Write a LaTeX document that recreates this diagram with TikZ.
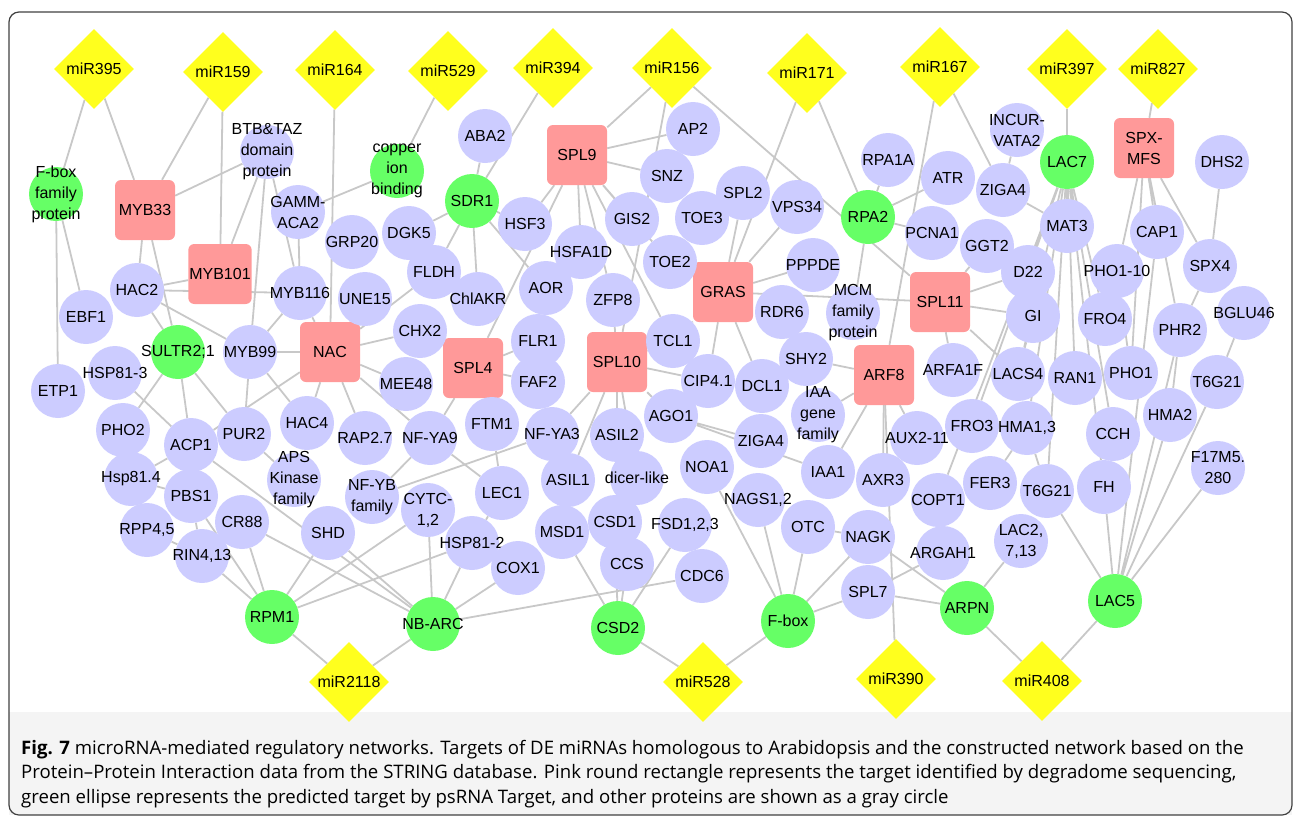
\documentclass[tikz,border=0pt]{standalone}
\usepackage{fontspec}
\setmainfont{Liberation Sans}
\newfontfamily\capfont{Open Sans}
\usetikzlibrary{shapes.geometric,backgrounds}
\definecolor{mirY}{RGB}{255,255,30}
\definecolor{predG}{RGB}{102,255,102}
\definecolor{degP}{RGB}{255,153,153}
\definecolor{lavN}{RGB}{204,204,255}
\definecolor{linkG}{RGB}{200,200,200}

\begin{document}
\begin{tikzpicture}[x=1pt,y=-1pt,
	nlab/.style={font=\fontsize{16}{21}\selectfont,align=center,inner sep=0pt},
	mir/.style={diamond,fill=mirY,minimum width=80pt,minimum height=80pt,inner sep=0pt,font=\fontsize{16}{21}\selectfont},
	deg/.style={rectangle,rounded corners=6pt,fill=degP,minimum size=60pt,inner sep=1pt,align=center,font=\fontsize{16}{21}\selectfont},
	pred/.style={circle,fill=predG,minimum size=54pt,inner sep=0pt,label={[nlab]center:#1}},
	prot/.style={circle,fill=lavN,minimum size=54pt,inner sep=0pt,label={[nlab]center:#1}},
	link/.style={draw=linkG,line width=1.8pt}]
	\useasboundingbox (0,0) rectangle (1293,820);
	% frame and caption band
	\fill[gray!9] (9,712) rectangle (1292,815);
	\draw[gray!50!black,line width=1.2pt,rounded corners=10pt] (9,12) rectangle (1292,815);
	% miRNAs
	\node[mir] (m395) at (94,69) {miR395};
	\node[mir] (m159) at (223,72) {miR159};
	\node[mir] (m164) at (335,70) {miR164};
	\node[mir] (m529) at (448,71) {miR529};
	\node[mir] (m394) at (553,68) {miR394};
	\node[mir] (m156) at (672,68) {miR156};
	\node[mir] (m171) at (807,73) {miR171};
	\node[mir] (m167) at (940,67) {miR167};
	\node[mir] (m397) at (1067,69) {miR397};
	\node[mir] (m827) at (1158,69) {miR827};
	\node[mir] (m2118) at (349,682) {miR2118};
	\node[mir] (m528) at (703,682) {miR528};
	\node[mir] (m390) at (896,679) {miR390};
	\node[mir] (m408) at (1042,681) {miR408};
	% degradome targets
	\node[deg] (myb33) at (145,210) {MYB33};
	\node[deg] (myb101) at (220,274) {MYB101};
	\node[deg] (nac) at (330,352) {NAC};
	\node[deg] (spl4) at (473,368) {SPL4};
	\node[deg] (spl9) at (577,155) {SPL9};
	\node[deg] (spl10) at (617,362) {SPL10};
	\node[deg] (gras) at (723,292) {GRAS};
	\node[deg] (spl11) at (940,302) {SPL11};
	\node[deg] (arf8) at (884,375) {ARF8};
	\node[deg] (spxmfs) at (1144,148) {SPX-\\MFS};
	% predicted targets
	\node[pred={F-box\\family\\protein}] (fbfam) at (56,194) {};
	\node[pred={copper\\ion\\binding}] (copper) at (397,171) {};
	\node[pred=SDR1] (sdr1) at (472,201) {};
	\node[pred=LAC7] (lac7) at (1067,162) {};
	\node[pred=RPA2] (rpa2) at (868,217) {};
	\node[pred={SULTR2;1}] (sultr) at (178,352) {};
	\node[pred=RPM1] (rpm1) at (272,617) {};
	\node[pred=NB-ARC] (nbarc) at (433,624) {};
	\node[pred=CSD2] (csd2) at (618,628) {};
	\node[pred=F-box] (fbox) at (788,621) {};
	\node[pred=ARPN] (arpn) at (967,608) {};
	\node[pred=LAC5] (lac5) at (1115,601) {};
	% other proteins
	\node[prot={BTB\&TAZ\\domain\\protein}] (btb) at (267,152) {};
	\node[prot={GAMM-\\ACA2}] (gamm) at (298,212) {};
	\node[prot=HAC2] (hac2) at (137,290) {};
	\node[prot=MYB116] (myb116) at (300,293) {};
	\node[prot=EBF1] (ebf1) at (86,317) {};
	\node[prot=MYB99] (myb99) at (250,352) {};
	\node[prot=HSP81-3] (hsp813) at (115,373) {};
	\node[prot=ETP1] (etp1) at (58,391) {};
	\node[prot=PHO2] (pho2) at (123,430) {};
	\node[prot=ACP1] (acp1) at (191,445) {};
	\node[prot=PUR2] (pur2) at (244,434) {};
	\node[prot=HAC4] (hac4) at (307,423) {};
	\node[prot=Hsp81.4] (hsp814) at (131,479) {};
	\node[prot=PBS1] (pbs1) at (191,496) {};
	\node[prot={APS\\Kinase\\family}] (aps) at (294,480) {};
	\node[prot={RPP4,5}] (rpp45) at (147,530) {};
	\node[prot=CR88] (cr88) at (242,522) {};
	\node[prot={RIN4,13}] (rin413) at (202,556) {};
	\node[prot=SHD] (shd) at (328,533) {};
	\node[prot=GRP20] (grp20) at (352,242) {};
	\node[prot=DGK5] (dgk5) at (409,233) {};
	\node[prot=ABA2] (aba2) at (485,136) {};
	\node[prot=HSF3] (hsf3) at (525,224) {};
	\node[prot=HSFA1D] (hsfa1d) at (581,252) {};
	\node[prot=FLDH] (fldh) at (434,272) {};
	\node[prot=UNE15] (une15) at (365,299) {};
	\node[prot=ChlAKR] (chlakr) at (478,299) {};
	\node[prot=AOR] (aor) at (546,288) {};
	\node[prot=ZFP8] (zfp8) at (613,300) {};
	\node[prot=CHX2] (chx2) at (420,331) {};
	\node[prot=FLR1] (flr1) at (538,341) {};
	\node[prot=FAF2] (faf2) at (538,382) {};
	\node[prot=MEE48] (mee48) at (406,384) {};
	\node[prot=FTM1] (ftm1) at (492,424) {};
	\node[prot=NF-YA3] (nfya3) at (552,434) {};
	\node[prot=ASIL2] (asil2) at (617,435) {};
	\node[prot=RAP2.7] (rap27) at (365,438) {};
	\node[prot=NF-YA9] (nfya9) at (430,438) {};
	\node[prot=ASIL1] (asil1) at (568,480) {};
	\node[prot=dicer-like] (dicer) at (637,478) {};
	\node[prot=LEC1] (lec1) at (502,493) {};
	\node[prot={NF-YB\\family}] (nfyb) at (372,497) {};
	\node[prot={CYTC-\\1,2}] (cytc) at (428,510) {};
	\node[prot=HSP81-2] (hsp812) at (472,543) {};
	\node[prot=COX1] (cox1) at (518,568) {};
	\node[prot=MSD1] (msd1) at (562,532) {};
	\node[prot=CSD1] (csd1) at (615,522) {};
	\node[prot=CCS] (ccs) at (627,564) {};
	\node[prot={FSD1,2,3}] (fsd) at (685,525) {};
	\node[prot=CDC6] (cdc6) at (702,576) {};
	\node[prot=AP2] (ap2) at (693,129) {};
	\node[prot=SNZ] (snz) at (667,176) {};
	\node[prot=GIS2] (gis2) at (632,219) {};
	\node[prot=TOE3] (toe3) at (702,218) {};
	\node[prot=SPL2] (spl2) at (743,193) {};
	\node[prot=VPS34] (vps34) at (797,207) {};
	\node[prot=TOE2] (toe2) at (670,262) {};
	\node[prot=PPPDE] (pppde) at (813,265) {};
	\node[prot=RPA1A] (rpa1a) at (888,160) {};
	\node[prot=ATR] (atr) at (948,178) {};
	\node[prot=PCNA1] (pcna1) at (932,233) {};
	\node[prot=RDR6] (rdr6) at (782,312) {};
	\node[prot={MCM\\family\\protein}] (mcm) at (853,313) {};
	\node[prot=TCL1] (tcl1) at (673,341) {};
	\node[prot=SHY2] (shy2) at (806,359) {};
	\node[prot=ARFA1F] (arfa1f) at (953,370) {};
	\node[prot=CIP4.1] (cip41) at (708,381) {};
	\node[prot=DCL1] (dcl1) at (762,386) {};
	\node[prot={IAA\\gene\\family}] (iaa) at (818,415) {};
	\node[prot=AGO1] (ago1) at (671,416) {};
	\node[prot=ZIGA4] (zigab) at (761,441) {};
	\node[prot=AUX2-11] (aux211) at (917,438) {};
	\node[prot=NOA1] (noa1) at (707,467) {};
	\node[prot=IAA1] (iaa1) at (828,472) {};
	\node[prot=AXR3] (axr3) at (883,480) {};
	\node[prot={NAGS1,2}] (nags) at (758,500) {};
	\node[prot=COPT1] (copt1) at (938,500) {};
	\node[prot=OTC] (otc) at (808,527) {};
	\node[prot=NAGK] (nagk) at (868,537) {};
	\node[prot=ARGAH1] (argah1) at (943,553) {};
	\node[prot=SPL7] (spl7) at (868,592) {};
	\node[prot={INCUR-\\VATA2}] (incurv) at (1017,130) {};
	\node[prot=ZIGA4] (zigaa) at (1003,190) {};
	\node[prot=MAT3] (mat3) at (1067,226) {};
	\node[prot=GGT2] (ggt2) at (987,246) {};
	\node[prot=D22] (d22) at (1028,272) {};
	\node[prot=CAP1] (cap1) at (1157,232) {};
	\node[prot=DHS2] (dhs2) at (1222,162) {};
	\node[prot=PHO1-10] (pho110) at (1117,271) {};
	\node[prot=SPX4] (spx4) at (1210,266) {};
	\node[prot=GI] (gi) at (1033,316) {};
	\node[prot=FRO4] (fro4) at (1105,319) {};
	\node[prot=PHR2] (phr2) at (1180,330) {};
	\node[prot=BGLU46] (bglu46) at (1244,313) {};
	\node[prot=LACS4] (lacs4) at (1018,374) {};
	\node[prot=RAN1] (ran1) at (1075,378) {};
	\node[prot=PHO1] (pho1) at (1131,373) {};
	\node[prot=T6G21] (t6g21b) at (1217,382) {};
	\node[prot=FRO3] (fro3) at (972,426) {};
	\node[prot={HMA1,3}] (hma13) at (1027,428) {};
	\node[prot=CCH] (cch) at (1113,434) {};
	\node[prot=HMA2] (hma2) at (1170,415) {};
	\node[prot={F17M5.\\280}] (f17) at (1218,468) {};
	\node[prot=FER3] (fer3) at (990,483) {};
	\node[prot=T6G21] (t6g21a) at (1047,491) {};
	\node[prot=FH] (fh) at (1104,487) {};
	\node[prot={LAC2,\\7,13}] (lac2) at (1021,541) {};
	% interactions
	\begin{scope}[on background layer]
	\draw[link] (m395) -- (fbfam) (m395) -- (myb33);
	\draw[link] (m159) -- (myb33) (m159) -- (myb101);
	\draw[link] (m164) -- (nac) (m529) -- (copper) (m394) -- (sdr1);
	\draw[link] (m156) -- (spl9) (m156) -- (spl10) (m156) -- (spl11);
	\draw[link] (m171) -- (gras) (m171) -- (rpa2);
	\draw[link] (m167) -- (arf8) (m167) -- (zigaa);
	\draw[link] (m397) -- (lac7) (m827) -- (spxmfs);
	\draw[link] (m2118) -- (rpm1) (m2118) -- (nbarc);
	\draw[link] (m528) -- (csd2) (m528) -- (fbox);
	\draw[link] (m390) -- (arf8);
	\draw[link] (m408) -- (arpn) (m408) -- (lac5);
	\draw[link] (fbfam) -- (etp1) (fbfam) -- (ebf1);
	\draw[link] (myb33) -- (btb) (myb33) -- (hac2) (myb33) -- (sultr);
	\draw[link] (btb) -- (myb101) (btb) -- (myb99) (btb) -- (myb116);
	\draw[link] (gamm) -- (copper) (gamm) -- (myb116);
	\draw[link] (hac2) -- (myb101) (hac2) -- (myb116) (hac2) -- (sultr) (hac2) -- (myb99);
	\draw[link] (myb116) -- (myb99) (myb116) -- (nac);
	\draw[link] (myb99) -- (nac) (myb99) -- (pur2) (myb99) -- (hac4);
	\draw[link] (nac) -- (acp1) (nac) -- (hac4) (nac) -- (une15) (nac) -- (chx2) (nac) -- (mee48) (nac) -- (rap27) (nac) -- (fldh) (nac) -- (nfya9);
	\draw[link] (sultr) -- (pho2) (sultr) -- (acp1) (sultr) -- (pur2);
	\draw[link] (acp1) -- (hsp813) (acp1) -- (hsp814) (acp1) -- (nbarc);
	\draw[link] (pur2) -- (aps);
	\draw[link] (pbs1) -- (hsp814) (pbs1) -- (rin413) (pbs1) -- (rpm1);
	\draw[link] (rpm1) -- (rin413) (rpm1) -- (cr88) (rpm1) -- (shd) (rpm1) -- (hsp812) (rpm1) -- (cytc);
	\draw[link] (rpp45) -- (rin413);
	\draw[link] (nbarc) -- (cr88) (nbarc) -- (shd) (nbarc) -- (cytc) (nbarc) -- (hsp812) (nbarc) -- (cox1) (nbarc) -- (cdc6);
	\draw[link] (sdr1) -- (aba2) (sdr1) -- (dgk5) (sdr1) -- (fldh) (sdr1) -- (chlakr) (sdr1) -- (hsf3) (sdr1) -- (aor);
	\draw[link] (spl9) -- (hsf3) (spl9) -- (ap2) (spl9) -- (snz) (spl9) -- (gis2) (spl9) -- (hsfa1d) (spl9) -- (toe2) (spl9) -- (zfp8) (spl9) -- (tcl1) (spl9) -- (spl4);
	\draw[link] (spl4) -- (flr1) (spl4) -- (faf2) (spl4) -- (nfya9);
	\draw[link] (spl10) -- (zfp8) (spl10) -- (tcl1) (spl10) -- (nfya3) (spl10) -- (asil2) (spl10) -- (asil1) (spl10) -- (cip41) (spl10) -- (ago1) (spl10) -- (dicer);
	\draw[link] (nfya3) -- (nfyb) (nfya3) -- (asil1);
	\draw[link] (nfya9) -- (nfyb) (nfya9) -- (lec1);
	\draw[link] (lec1) -- (ftm1) (lec1) -- (hsp812);
	\draw[link] (csd2) -- (msd1) (csd2) -- (ccs) (csd2) -- (csd1) (csd2) -- (fsd);
	\draw[link] (fbox) -- (nags) (fbox) -- (otc) (fbox) -- (nagk) (fbox) -- (spl7) (fbox) -- (noa1);
	\draw[link] (spl7) -- (arpn) (spl7) -- (argah1);
	\draw[link] (nagk) -- (arpn) (nagk) -- (otc) (arpn) -- (lac2);
	\draw[link] (gras) -- (pppde) (gras) -- (tcl1) (gras) -- (cip41) (gras) -- (dcl1) (gras) -- (spl2) (gras) -- (vps34) (gras) -- (spl11);
	\draw[link] (rpa2) -- (rpa1a) (rpa2) -- (atr) (rpa2) -- (pcna1) (rpa2) -- (mcm);
	\draw[link] (arf8) -- (shy2) (arf8) -- (iaa) (arf8) -- (iaa1) (arf8) -- (axr3) (arf8) -- (aux211);
	\draw[link] (spl11) -- (arfa1f) (spl11) -- (d22) (spl11) -- (gi) (spl11) -- (lacs4) (spl11) -- (ggt2);
	\draw[link] (ago1) -- (zigab) (ago1) -- (iaa1);
	\draw[link] (zigaa) -- (incurv) (zigaa) -- (mat3);
	\draw[link] (lac7) -- (mat3) (lac7) -- (d22) (lac7) -- (t6g21a) (lac7) -- (ran1) (lac7) -- (fro4) (lac7) -- (cch) (lac7) -- (fh) (lac7) -- (hma13) (lac7) -- (lacs4) (lac7) -- (fro3) (lac7) -- (copt1);
	\draw[link] (spxmfs) -- (pho110) (spxmfs) -- (cap1) (spxmfs) -- (spx4) (spxmfs) -- (pho1) (spxmfs) -- (phr2);
	\draw[link] (spx4) -- (dhs2) (spx4) -- (phr2) (pho1) -- (pho110) (t6g21b) -- (bglu46);
	\draw[link] (lac5) -- (hma2) (lac5) -- (t6g21b) (lac5) -- (f17) (lac5) -- (t6g21a) (lac5) -- (fh) (lac5) -- (cap1) (lac5) -- (phr2);
	\draw[link] (phr2) -- (hma2) (hma13) -- (fer3) (hma13) -- (t6g21a) (gi) -- (lacs4);
	\end{scope}
	% caption
	\node[anchor=north west,align=left,inner sep=0pt,font=\capfont\fontsize{18.6}{24.5}\selectfont] (caption) at (21,740)
	{\textbf{Fig. 7} microRNA-mediated regulatory networks. Targets of DE miRNAs homologous to Arabidopsis and the constructed network based on the\\
	Protein–Protein Interaction data from the STRING database. Pink round rectangle represents the target identified by degradome sequencing,\\
	green ellipse represents the predicted target by psRNA Target, and other proteins are shown as a gray circle};
\end{tikzpicture}
\end{document}
